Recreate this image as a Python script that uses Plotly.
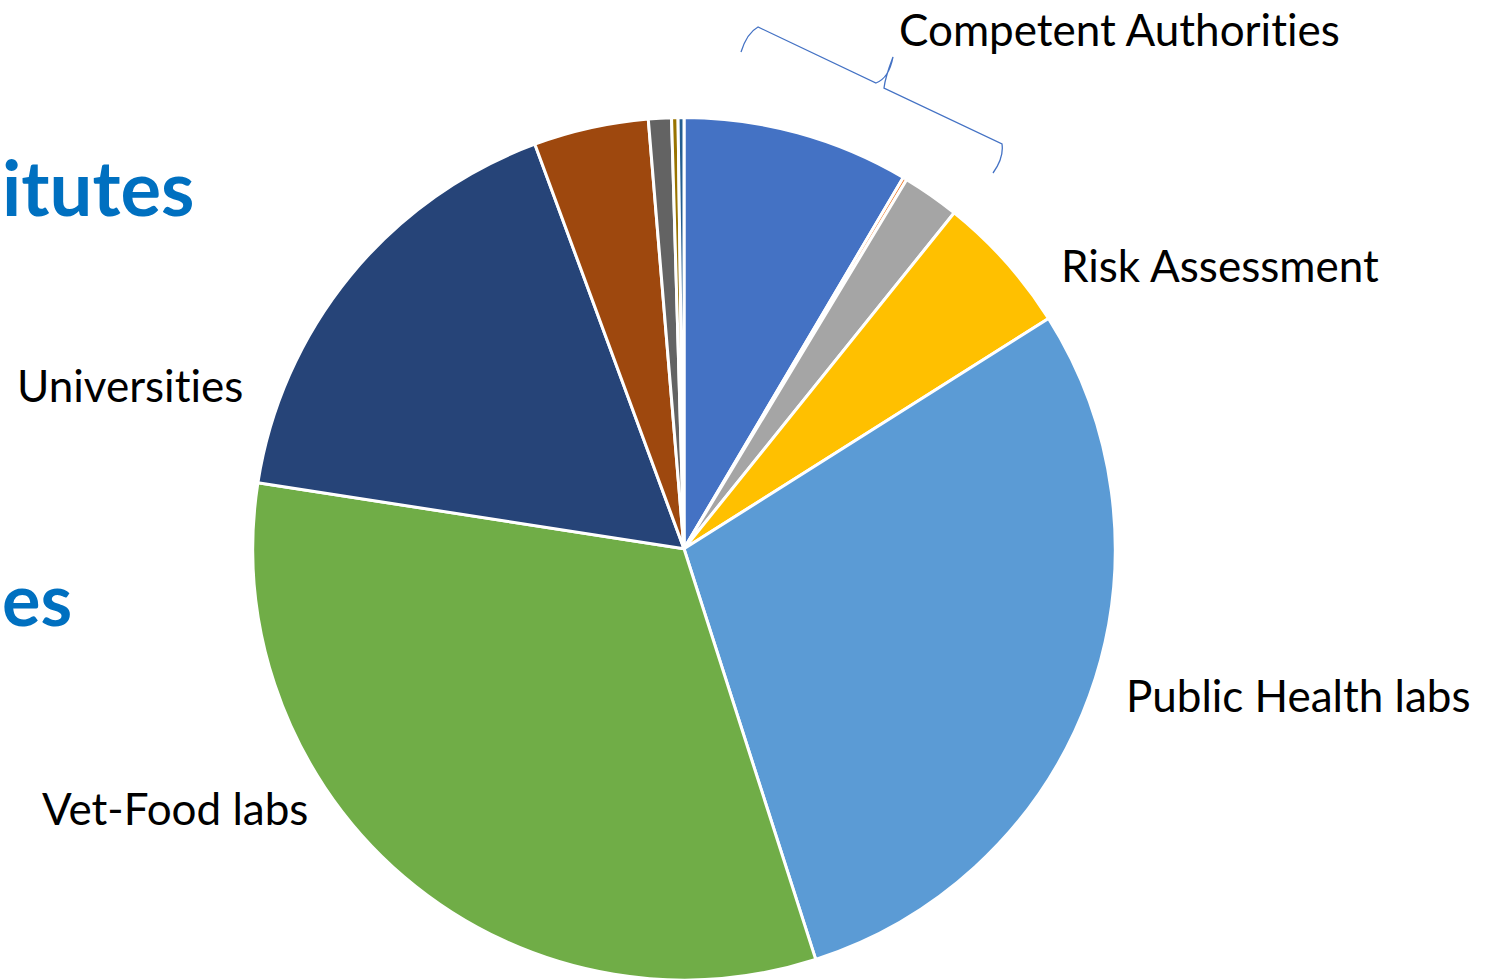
import plotly.graph_objects as go

W, H = 1494, 980

# Slice data (clockwise from 12 o'clock), percent shares
categories = ["Competent Authorities A", "Competent Authorities B", "Competent Authorities C",
              "Risk Assessment", "Public Health labs", "Vet-Food labs", "Universities",
              "Other 1", "Other 2", "Other 3", "Other 4"]
shares = [8.49, 0.15, 2.14, 5.25, 29.03, 32.39, 16.93, 4.30, 0.86, 0.24, 0.22]
colors = ["#4472C4", "#ED7D31", "#A5A5A5", "#FFC000", "#5B9BD5", "#70AD47",
          "#264478", "#9E480E", "#636363", "#997300", "#255E91"]

# Label texts
label_texts = ["Competent Authorities", "Risk Assessment", "Public Health labs",
               "Vet-Food labs", "Universities"]
bg_texts = ["itutes", "es"]


def px(x):
    return x / W


def py(y):
    return 1 - y / H


def no_lig(s):
    # break the Lato "ti" ligature so the glyphs look like plain letters
    return s.replace("ti", "t\u200ci")


fig = go.Figure(go.Pie(
    labels=categories,
    values=shares,
    sort=False,
    direction="clockwise",
    rotation=0,
    marker=dict(colors=colors, line=dict(color="white", width=3)),
    textinfo="none",
    hoverinfo="label+percent",
    showlegend=False,
    domain=dict(x=[px(684 - 433), px(684 + 433)], y=[0, 0.88]),
))

label_pos = [(897, 29), (1059, 265), (1124, 695), (40, 808), (15, 385)]
annotations = []
for t, (x, y) in zip(label_texts, label_pos):
    annotations.append(dict(
        text=no_lig(t), x=px(x), y=py(y), xref="paper", yref="paper",
        xanchor="left", yanchor="middle", showarrow=False,
        font=dict(family="Lato", size=44, color="black"),
    ))

annotations.append(dict(
    text="<b>" + bg_texts[0] + "</b>", x=px(196), y=py(186), xref="paper", yref="paper",
    xanchor="right", yanchor="middle", showarrow=False,
    font=dict(family="Lato", size=76, color="#0070C0"),
))
annotations.append(dict(
    text="<b>" + bg_texts[1] + "</b>", x=px(0), y=py(598), xref="paper", yref="paper",
    xanchor="left", yanchor="middle", showarrow=False,
    font=dict(family="Lato", size=72, color="#0070C0"),
))

# Curly brace for "Competent Authorities"
pts = "M {} {} Q {} {} {} {} L {} {} Q {} {} {} {} Q {} {} {} {} L {} {} Q {} {} {} {}".format(
    px(741), py(52), px(747), py(33), px(758), py(27),
    px(876), py(83), px(889), py(78), px(893), py(57),
    px(885), py(78), px(884), py(88),
    px(1002), py(144), px(1004), py(158), px(993), py(173),
)
shapes = [dict(type="path", path=pts, xref="paper", yref="paper",
               line=dict(color="#4472C4", width=1.3))]

fig.update_layout(
    width=W, height=H,
    margin=dict(l=0, r=0, t=0, b=0),
    paper_bgcolor="white", plot_bgcolor="white",
    annotations=annotations,
    shapes=shapes,
)

fig.write_html("out.html")
